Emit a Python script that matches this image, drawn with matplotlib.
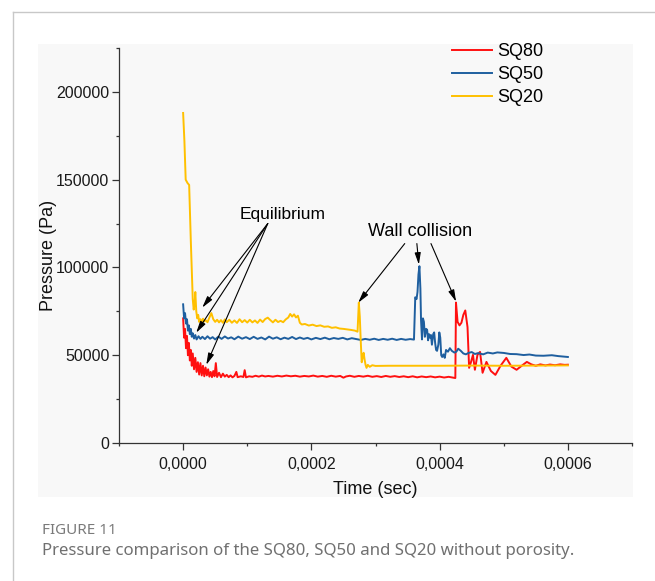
import numpy as np
import matplotlib
matplotlib.use("Agg")
import matplotlib.pyplot as plt
from matplotlib.patches import Rectangle
from matplotlib.lines import Line2D
from matplotlib.ticker import MultipleLocator, FuncFormatter

plt.rcParams['font.family'] = ['Liberation Sans', 'DejaVu Sans']

# pressure traces, time in microseconds, pressure in Pa
t_sq80 = [0, 1.5, 3, 4.5, 6, 7.5, 9, 10.5, 12, 13.5, 15, 17, 19, 21, 23, 25, 27, 29, 31, 33,
          35, 37, 39, 41, 43, 45, 47, 49, 51, 53, 56, 59, 62, 65, 68, 71, 74, 77, 80, 83,
          85, 90, 94, 96, 98, 103, 108, 113, 118, 123, 128, 133, 140, 147, 154, 161, 168, 175, 182, 189,
          196, 203, 210, 217, 224, 231, 238, 245, 250, 254, 260, 267, 274, 281, 288, 295, 302, 309, 316, 323,
          330, 337, 344, 351, 358, 365, 372, 379, 386, 393, 400, 407, 414, 420, 424.5, 425.5, 428, 431, 434, 437,
          440, 442, 443.5, 446, 449, 452, 455, 459, 463, 467, 473, 480, 487, 495, 504, 512, 520, 528, 536, 543,
          550, 557, 565, 572, 580, 588, 595, 600]
p_sq80 = [71000, 60000, 65000, 54000, 61000, 50000, 57000, 47000, 53000, 44000, 51000, 42000, 48500, 40500, 46000, 39000, 45500, 38500, 44000, 38000,
          43000, 38500, 42000, 37800, 40500, 37500, 41000, 38000, 45500, 37600, 40000, 37500, 39500, 37800, 38800, 37500, 38500, 37400, 38200, 40500,
          37500, 38000, 37600, 41500, 37400, 38000, 37700, 38300, 37800, 38400, 37900, 38200, 37800, 38300, 37900, 38400, 38000, 38300, 37800, 38200,
          37900, 38400, 37800, 38200, 37700, 38300, 37800, 38200, 37200, 37900, 38300, 37700, 38200, 37800, 38300, 37700, 38100, 37600, 38200, 37700,
          38100, 37600, 38000, 37500, 38000, 37400, 37900, 37500, 37900, 37400, 37800, 37300, 37700, 37300, 37000, 80000, 69000, 67000, 68500, 73000,
          75500, 70000, 66000, 42800, 46200, 50200, 41700, 50200, 51900, 40000, 46200, 41000, 38800, 44000, 48500, 43500, 41700, 44000, 46200, 44800,
          44000, 44800, 44200, 44700, 44300, 44800, 44500, 44600]

t_sq50 = [0, 1.5, 3, 4.5, 6, 7.5, 9, 10.5, 12, 13.5, 15, 17, 19, 21, 24, 27, 30, 34, 38, 42,
          46, 50, 55, 60, 65, 70, 75, 80, 86, 92, 98, 104, 110, 116, 122, 128, 134, 140, 146, 152,
          158, 164, 170, 176, 182, 188, 194, 200, 207, 214, 221, 228, 235, 242, 249, 256, 263, 270, 277, 284,
          291, 298, 305, 312, 319, 326, 333, 340, 347, 354, 360, 362, 364, 365.5, 367, 368.5, 370, 371, 372.5, 374,
          375.5, 377, 379, 380.5, 382, 383.5, 385, 386.5, 388, 390, 391.5, 393, 394.5, 396, 398, 399.5, 401, 402.5, 404, 406,
          408, 410, 413, 416, 419, 423, 426, 429, 433, 437, 441, 445, 450, 455, 460, 468, 475, 483, 490, 500,
          510, 520, 531, 540, 550, 562, 575, 585, 600]
p_sq50 = [79000, 71000, 74000, 68000, 70500, 64000, 67000, 62000, 65000, 60500, 62500, 59500, 61500, 59000, 60800, 59300, 60500, 59200, 60800, 59400,
          60300, 59000, 60600, 59300, 60700, 59500, 60200, 59100, 60600, 59400, 60300, 59200, 60500, 59300, 60100, 59000, 60600, 59400, 60200, 59100,
          60000, 59300, 60400, 59200, 60100, 59300, 59900, 59000, 59900, 59200, 60000, 59100, 59800, 59300, 59900, 59000, 59700, 59200, 58700, 59300,
          58800, 59400, 58700, 59300, 58800, 59400, 58700, 59300, 58800, 59200, 58900, 83000, 82000, 86000, 96000, 100700, 88000, 70000, 59000, 71000,
          69000, 60500, 65000, 64500, 58500, 62000, 60000, 61500, 56000, 62000, 63000, 57000, 53000, 52500, 56000, 63000, 60000, 50000, 49000, 50500,
          48500, 53000, 52000, 54000, 52500, 51500, 52000, 53700, 52500, 51000, 50500, 51300, 51800, 50700, 51200, 50500, 51500, 51000, 51600, 51300,
          50700, 50600, 50100, 50400, 49800, 49700, 50000, 49500, 49000]

t_sq20 = [0, 2, 4, 7, 9.4, 12, 15, 16.5, 18, 19, 20.5, 22, 23.5, 25, 27, 29, 31, 33, 35, 38,
          41, 44, 47, 50, 53, 56, 59, 62, 65, 68, 72, 76, 80, 84, 88, 92, 96, 100, 104, 108,
          112, 116, 120, 124, 128, 132, 136, 140, 144, 148, 152, 156, 160, 164, 167, 170, 173, 176, 179, 182,
          185, 190, 196, 202, 208, 214, 220, 226, 232, 238, 244, 250, 256, 262, 268, 272, 274, 275.5, 277, 278.5,
          280, 281.5, 283, 284.5, 286, 288, 291, 295, 300, 320, 360, 400, 450, 500, 550, 600]
p_sq20 = [188000, 172000, 150000, 148000, 147000, 115000, 82000, 76000, 80000, 86000, 75000, 71000, 73000, 69000, 70500, 68500, 70800, 69200, 70000, 68800,
          71500, 74000, 70500, 69000, 70200, 68700, 70000, 68500, 70400, 68800, 70200, 68500, 69800, 68400, 70500, 68800, 70000, 68600, 70200, 68700,
          69800, 68400, 70300, 68900, 70600, 71400, 70000, 68700, 70200, 68900, 69600, 68800, 70400, 71500, 73500, 72000, 73300, 71500, 72500, 68500,
          67500, 67800, 66900, 67400, 66600, 67000, 66200, 66400, 65600, 65900, 65200, 65000, 64700, 64400, 64000, 63400, 80000, 72000, 58000, 46000,
          49000, 51400, 47500, 44500, 42800, 44500, 43400, 44300, 43900, 44000, 44000, 44000, 44100, 44000, 44100, 44200]

series_names = ['SQ80', 'SQ50', 'SQ20']
series_colors = ['#ff1010', '#1f5f9f', '#ffc000']

fig = plt.figure(figsize=(6.55, 5.81), dpi=100)
W, H = 655, 581

# frame of the figure box and the grey plot panel
fig.add_artist(Line2D([13 / W, 13 / W], [0, 1 - 12 / H], color='#c8c8c8', lw=1.0))
fig.add_artist(Line2D([13 / W, 1], [1 - 12 / H, 1 - 12 / H], color='#c8c8c8', lw=1.0))
fig.add_artist(Rectangle((38 / W, 1 - 497 / H), 595 / W, 453 / H, facecolor='#f8f8f8',
                         edgecolor='none', zorder=0))

ax = fig.add_axes([119 / W, 1 - 443 / H, 513 / W, 395 / H])
ax.patch.set_alpha(0)

data = [(t_sq80, p_sq80), (t_sq50, p_sq50), (t_sq20, p_sq20)]
lines = []
for (t, p), name, c in zip(data, series_names, series_colors):
    ln, = ax.plot(np.array(t) * 1e-6, p, color=c, lw=1.4, label=name)
    lines.append(ln)

ax.set_xlim(-0.0001, 0.0007)
ax.set_ylim(0, 225000)
ax.xaxis.set_major_locator(MultipleLocator(0.0002))
ax.xaxis.set_minor_locator(MultipleLocator(0.0001))
ax.yaxis.set_major_locator(MultipleLocator(50000))
ax.yaxis.set_minor_locator(MultipleLocator(25000))
ax.xaxis.set_major_formatter(FuncFormatter(lambda v, pos: f"{v:.4f}".replace('.', ',')))
ax.yaxis.set_major_formatter(FuncFormatter(lambda v, pos: f"{v:.0f}"))

for s in ['top', 'right']:
    ax.spines[s].set_visible(False)
for s in ['left', 'bottom']:
    ax.spines[s].set_color('#333333')
    ax.spines[s].set_linewidth(0.9)
ax.tick_params(which='major', direction='out', length=5, width=0.9, color='#333333',
               labelsize=11.5, labelcolor='#1a1a1a', pad=2)
ax.tick_params(which='minor', direction='out', length=2.5, width=0.9, color='#333333')
ax.tick_params(axis='x', pad=5)

ax.set_xlabel('Time (sec)', fontsize=13, color='#111111')
ax.set_ylabel('Pressure (Pa)', fontsize=13, color='#111111')
ax.xaxis.set_label_coords(0.5, -0.097)
ax.yaxis.set_label_coords(-0.12, 0.476)

ax.legend(handles=lines, loc='upper left', bbox_to_anchor=(452 / W, 1 - 43 / H),
          bbox_transform=fig.transFigure, frameon=False, fontsize=13,
          handlelength=2.2, handletextpad=0.3, labelspacing=0.33,
          borderpad=0, borderaxespad=0)

# annotations
arrow = dict(arrowstyle='-|>,head_length=0.7,head_width=0.18', color='black', lw=0.8,
             shrinkA=0, shrinkB=0)
ax.text(155.5e-6, 130100, 'Equilibrium', fontsize=12.5, ha='center', va='center')
for hx, hy in [(29.8e-6, 77100), (20.4e-6, 62800), (36.1e-6, 44500)]:
    ax.annotate('', xy=(hx, hy), xytext=(132e-6, 125000), arrowprops=arrow)

ax.text(369e-6, 120400, 'Wall collision', fontsize=13, ha='center', va='center')
for tx, hx, hy in [(345.6e-6, 273e-6, 79900), (364.5e-6, 367.6e-6, 101600),
                   (386.5e-6, 425.7e-6, 80500)]:
    ax.annotate('', xy=(hx, hy), xytext=(tx, 113600), arrowprops=arrow)

# caption
fig.text(42 / W, 1 - 531 / H, 'FIGURE 11', fontsize=11, color='#7a7a7a',
         family=['Noto Sans', 'DejaVu Sans'], fontweight='semibold', va='center')
fig.text(42 / W, 1 - 551 / H, 'Pressure comparison of the SQ80, SQ50 and SQ20 without porosity.',
         fontsize=12.1, color='#707070', family=['Noto Sans', 'DejaVu Sans'], va='center')

fig.savefig('out.png', dpi=100)
